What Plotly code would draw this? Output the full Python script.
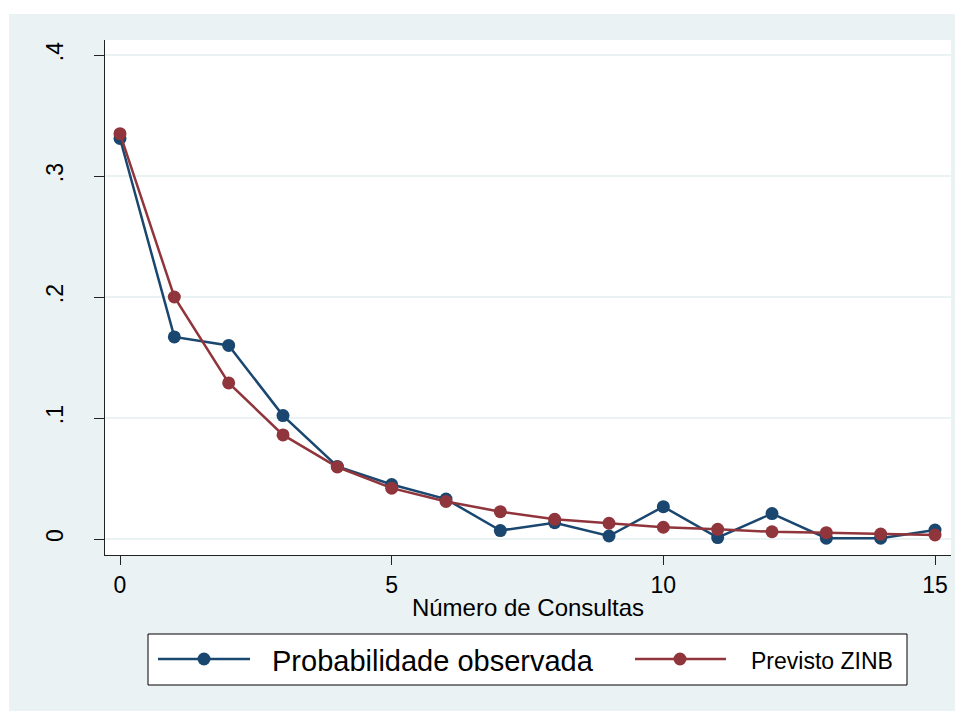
import plotly.graph_objects as go

# ---- data ----
consultas = list(range(16))
prob_observada = [0.331, 0.167, 0.160, 0.102, 0.060, 0.045, 0.033, 0.007,
                  0.0135, 0.0025, 0.0267, 0.0012, 0.021, 0.0007, 0.0007, 0.0074]
previsto_zinb = [0.335, 0.200, 0.129, 0.086, 0.0595, 0.042, 0.031, 0.0226,
                 0.0163, 0.013, 0.0097, 0.008, 0.006, 0.0052, 0.0041, 0.0033]
x_ticks = [0, 5, 10, 15]
y_ticks = [0, 0.1, 0.2, 0.3, 0.4]
y_ticktext = ["0", ".1", ".2", ".3", ".4"]
series_names = ["Probabilidade observada", "Previsto ZINB"]

BLUE = "#1A476F"
RED = "#90353B"
PANEL = "#EAF2F3"
FONT = "Liberation Sans, Arial, sans-serif"

# page offset of the plot div (browser body margin)
OX, OY = 8, 8
VW, VH = 963, 711
W, H = VW - OX, VH - OY
# plot area in window pixels
PX0, PX1, PY0, PY1 = 105, 951, 40, 555
L, R, T, B = PX0 - OX, W - (PX1 - OX), PY0 - OY, H - (PY1 - OY)
PW, PH = W - L - R, H - T - B


def px_x(px):
    return (px - PX0) / PW


def px_y(py):
    return (PY1 - py) / PH


fig = go.Figure()
fig.add_trace(go.Scatter(
    x=consultas, y=prob_observada, mode="lines+markers", name=series_names[0],
    line=dict(color=BLUE, width=2.5), marker=dict(color=BLUE, size=13, line=dict(width=0)),
    showlegend=False))
fig.add_trace(go.Scatter(
    x=consultas, y=previsto_zinb, mode="lines+markers", name=series_names[1],
    line=dict(color=RED, width=2.5), marker=dict(color=RED, size=13, line=dict(width=0)),
    showlegend=False))

shapes = []
# white outer strips (top and left)
shapes.append(dict(type="rect", xref="paper", yref="paper", layer="below",
                   x0=px_x(0), x1=px_x(VW + 5), y0=px_y(14), y1=px_y(0),
                   fillcolor="white", line=dict(width=0)))
shapes.append(dict(type="rect", xref="paper", yref="paper", layer="below",
                   x0=px_x(0), x1=px_x(9), y0=px_y(VH + 5), y1=px_y(0),
                   fillcolor="white", line=dict(width=0)))
# legend box
shapes.append(dict(type="rect", xref="paper", yref="paper",
                   x0=px_x(148), x1=px_x(907), y0=px_y(685), y1=px_y(634),
                   fillcolor="white", line=dict(color="black", width=1)))
annotations = []
leg_y = 659
legend_items = [
    (series_names[0], BLUE, 158, 250, 204, 270, 29),
    (series_names[1], RED, 635, 726, 680, 749, 23),
]
for name, col, lx0, lx1, mx, tx, fs in legend_items:
    shapes.append(dict(type="line", xref="paper", yref="paper",
                       x0=px_x(lx0), x1=px_x(lx1), y0=px_y(leg_y), y1=px_y(leg_y),
                       line=dict(color=col, width=2.5)))
    shapes.append(dict(type="circle", xref="paper", yref="paper",
                       x0=px_x(mx - 6.5), x1=px_x(mx + 6.5),
                       y0=px_y(leg_y + 6.5), y1=px_y(leg_y - 6.5),
                       fillcolor=col, line=dict(width=0)))
    annotations.append(dict(xref="paper", yref="paper", x=px_x(tx), y=px_y(leg_y + 2),
                            xanchor="left", yanchor="middle", showarrow=False,
                            text=name, font=dict(family=FONT, size=fs, color="black")))

fig.update_layout(
    width=W, height=H,
    margin=dict(l=L, r=R, t=T, b=B, pad=0),
    paper_bgcolor=PANEL, plot_bgcolor="white",
    font=dict(family=FONT, color="black"),
    shapes=shapes, annotations=annotations,
    xaxis=dict(
        range=[-15 / 54.333, 15 + 16 / 54.333],
        tickvals=x_ticks, ticktext=[str(v) for v in x_ticks],
        showgrid=False, zeroline=False,
        showline=True, linecolor="#222", linewidth=1.3,
        ticks="outside", ticklen=9, tickcolor="#222", tickwidth=1.3,
        tickfont=dict(size=23, family=FONT, color="black"),
        ticklabelstandoff=0,
        title=dict(text="Número de Consultas", font=dict(size=24, family=FONT, color="black"),
                   standoff=2),
        mirror=False,
    ),
    yaxis=dict(
        range=[-16 / 1210, 0.4 + 15 / 1210],
        tickvals=y_ticks, ticktext=y_ticktext,
        showgrid=True, gridcolor=PANEL, gridwidth=2,
        zeroline=False,
        showline=True, linecolor="#222", linewidth=1.3,
        ticks="outside", ticklen=10, tickcolor="#222", tickwidth=1.3,
        tickangle=-90,
        tickfont=dict(size=23, family=FONT, color="black"),
        ticklabelstandoff=22,
    ),
)

fig.write_html("out.html")
